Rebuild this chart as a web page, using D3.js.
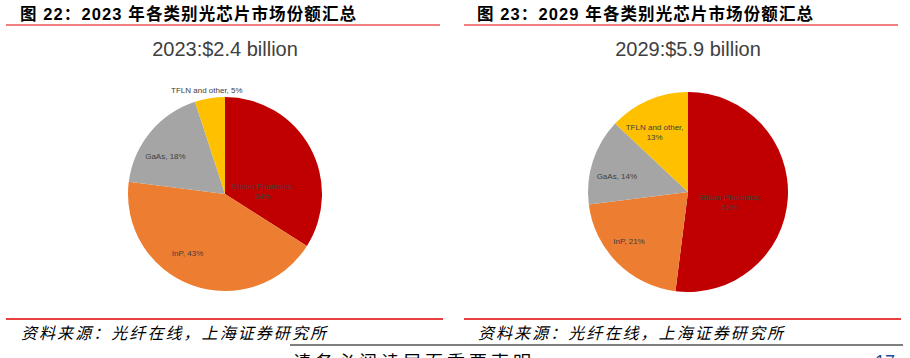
<!DOCTYPE html>
<html>
<head>
<meta charset="utf-8">
<script src="https://cdn.jsdelivr.net/npm/d3@7"></script>
<style>
  html, body { margin: 0; padding: 0; background: #fff; }
  svg { display: block; }
</style>
</head>
<body>
<svg id="chart" width="910" height="358"></svg>
<script>
// ---- data ----
const categories = ["Silicon Photonics", "InP", "GaAs", "TFLN and other"];
const share2023 = [34, 43, 18, 5];
const share2029 = [52, 21, 14, 13];
const chartTitles = ["2023:$2.4 billion", "2029:$5.9 billion"];
const figureTitles = ["图 22：2023 年各类别光芯片市场份额汇总", "图 23：2029 年各类别光芯片市场份额汇总"];
const sourceNote = "资料来源：光纤在线，上海证券研究所";
const footerNote = "请务必阅读尾页重要声明";
const pageNumber = "17";
const colors = ["#C00000", "#ED7D31", "#A5A5A5", "#FFC000"];

// ---- layout (not data) ----
const panels = [
  { x0: 6, x1: 440, textX: 20, cx: 225, cy: 194, r: 97,
    labelPolar: [[85.5, 0.39], [212.4, 0.72], [302.7, 0.73], [350.1, 1.09]],
    twoLine: [true, false, false, false] },
  { x0: 464, x1: 898, textX: 477, cx: 688, cy: 192, r: 100,
    labelPolar: [[104, 0.43], [230, 0.77], [283, 0.73], [330.8, 0.684]],
    twoLine: [true, false, false, true] }
];
const seriesList = [share2023, share2029];

const svg = d3.select("#chart");
const cjk = "'Liberation Sans', Arial, 'Noto Sans CJK SC', sans-serif";

panels.forEach((p, i) => {
  const g = svg.append("g");
  // figure header
  g.append("text")
    .attr("x", p.textX).attr("y", 20)
    .attr("textLength", 336).attr("lengthAdjust", "spacing")
    .style("font-family", cjk).style("font-weight", "bold")
    .style("font-size", "16.5px").attr("fill", "#000")
    .text(figureTitles[i]);
  g.append("line")
    .attr("x1", p.x0).attr("x2", p.x1).attr("y1", 25).attr("y2", 25)
    .attr("stroke", "#F27F7F").attr("stroke-width", 2);

  // chart title
  g.append("text")
    .attr("x", p.cx).attr("y", 56).attr("text-anchor", "middle")
    .style("font-family", "'Liberation Sans', Arial, sans-serif")
    .style("font-size", "20px").attr("fill", "#404040")
    .text(chartTitles[i]);

  // pie
  const data = seriesList[i].map((v, k) => ({ cat: categories[k], value: v, k }));
  const pie = d3.pie().sort(null).value(d => d.value).startAngle(0).endAngle(2 * Math.PI);
  const arc = d3.arc().innerRadius(0).outerRadius(p.r);
  const arcs = pie(data);
  const pg = g.append("g").attr("transform", `translate(${p.cx},${p.cy})`);
  pg.selectAll("path").data(arcs).join("path")
    .attr("d", arc)
    .attr("fill", d => colors[d.data.k]);

  // labels
  arcs.forEach(d => {
    const [angDeg, rf] = p.labelPolar[d.data.k];
    const a = angDeg * Math.PI / 180;
    const rr = rf * p.r;
    const lx = rr * Math.sin(a), ly = -rr * Math.cos(a);
    const t = pg.append("text")
      .attr("text-anchor", "middle")
      .style("font-family", "'Liberation Sans', Arial, sans-serif")
      .style("font-size", "8px").attr("fill", "#404040");
    if (p.twoLine[d.data.k]) {
      t.append("tspan").attr("x", lx).attr("y", ly - 2).text(d.data.cat + ",");
      t.append("tspan").attr("x", lx).attr("y", ly + 8).text(d.data.value + "%");
    } else {
      t.attr("x", lx).attr("y", ly + 3).text(d.data.cat + ", " + d.data.value + "%");
    }
  });

  // source line and note
  g.append("line")
    .attr("x1", p.x0).attr("x2", p.x1 + 3).attr("y1", 319).attr("y2", 319)
    .attr("stroke", "#E00000").attr("stroke-width", 1.5);
  g.append("text")
    .attr("x", p.textX + 1).attr("y", 339)
    .attr("textLength", 305).attr("lengthAdjust", "spacing")
    .style("font-family", "'Noto Sans CJK SC', sans-serif")
    .style("font-style", "italic")
    .style("font-size", "16px").attr("fill", "#000")
    .text(sourceNote);
});

// footer
svg.append("line")
  .attr("x1", 290).attr("x2", 903).attr("y1", 345).attr("y2", 345)
  .attr("stroke", "#555").attr("stroke-width", 1.5);
svg.append("text")
  .attr("x", 293).attr("y", 369)
  .attr("textLength", 238).attr("lengthAdjust", "spacing")
  .style("font-family", "'Noto Sans CJK SC', sans-serif")
  .style("font-size", "18px").attr("fill", "#000")
  .text(footerNote);
svg.append("text")
  .attr("x", 875).attr("y", 368)
  .style("font-family", "'Liberation Sans', Arial, sans-serif")
  .style("font-size", "18px").attr("fill", "#1F4E9A")
  .text(pageNumber);
</script>
</body>
</html>
